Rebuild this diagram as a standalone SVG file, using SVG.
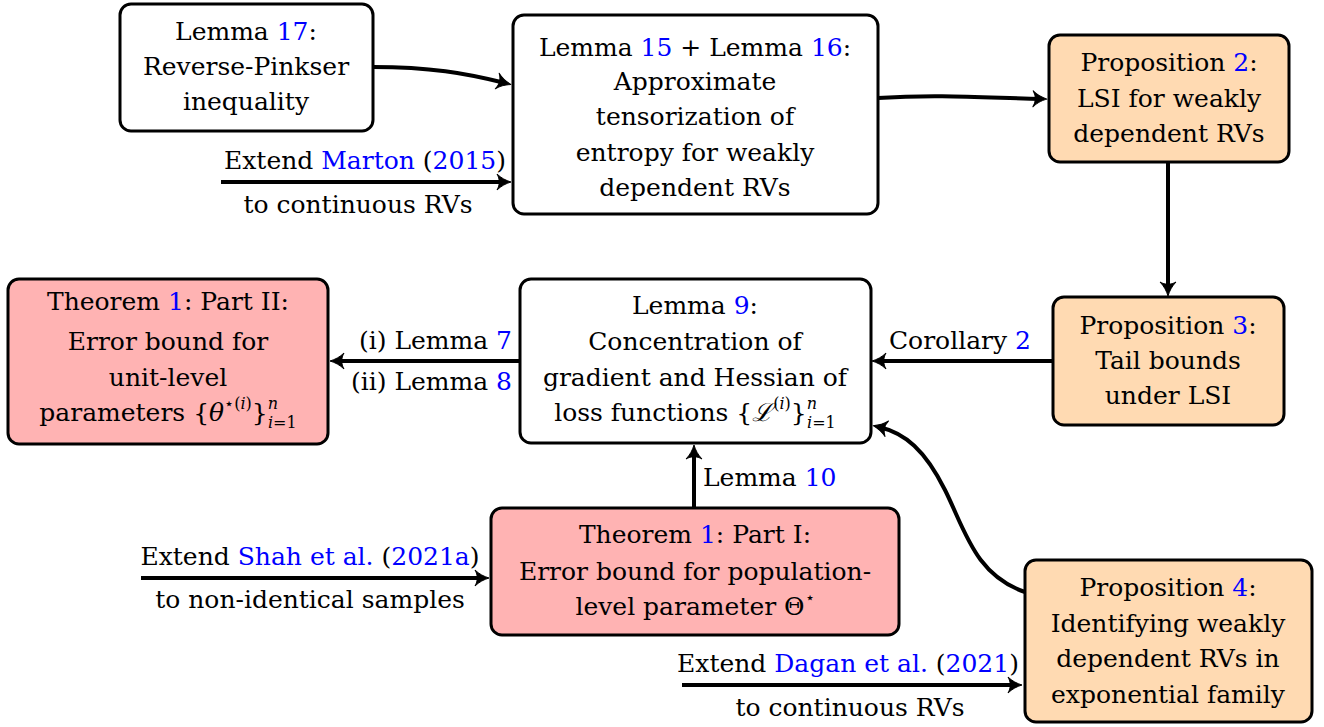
<svg xmlns="http://www.w3.org/2000/svg" width="1324" height="727" viewBox="0 0 1324 727">
<style>
text{font-family:'DejaVu Serif','Liberation Serif',serif;font-size:25px;fill:#000;}
.c{text-anchor:middle;}
.r{text-anchor:end;}
.b{fill:#0000ff;}
.i{font-style:italic;}
.s{font-size:16px;}
.box{stroke:#000;stroke-width:3;fill:#fff;}
.peach{fill:#ffdab2;}
.pink{fill:#ffb3b3;}
.e{fill:none;stroke:#000;stroke-width:4;marker-end:url(#ah);}
</style>
<defs>
<marker id="ah" markerUnits="userSpaceOnUse" orient="auto" refX="-5" refY="0" overflow="visible">
<path d="M1,0 C-4,-1.5 -9,-4 -13,-8 C-10,-3 -10,3 -13,8 C-9,4 -4,1.5 1,0 Z" fill="#000" stroke="#000" stroke-width="1" stroke-linejoin="round"/>
</marker>
</defs>
<rect width="1324" height="727" fill="#fff"/>
<g id="connectors">
<path class="e" d="M373,67 C430,67 465,73 505,83"/>
<path class="e" d="M221,182 L505,182"/>
<path class="e" d="M878,98 C940,94 990,98 1041,99"/>
<path class="e" d="M1168,162 L1168,290"/>
<path class="e" d="M1053,361 L878,361"/>
<path class="e" d="M520,361 L336,361"/>
<path class="e" d="M694,508 L694,451"/>
<path class="e" d="M1025,592 C975,575 965,530 945,490 C925,450 905,433 879,427"/>
<path class="e" d="M141,578 L483,578"/>
<path class="e" d="M682,685 L1016,685"/>
</g>
<g id="labels">
<text class="c" x="365" y="169">Extend <tspan class="b">Marton</tspan> (<tspan class="b">2015</tspan>)</text>
<text class="c" x="358" y="213">to continuous RVs</text>
<text class="c" x="960" y="349">Corollary <tspan class="b">2</tspan></text>
<text class="r" x="512" y="349">(i) Lemma <tspan class="b">7</tspan></text>
<text class="r" x="512" y="390">(ii) Lemma <tspan class="b">8</tspan></text>
<text x="703" y="486">Lemma <tspan class="b">10</tspan></text>
<text class="c" x="310" y="565">Extend <tspan class="b">Shah et al.</tspan> (<tspan class="b">2021a</tspan>)</text>
<text class="c" x="310" y="608">to non-identical samples</text>
<text class="c" x="848" y="672">Extend <tspan class="b">Dagan et al.</tspan> (<tspan class="b">2021</tspan>)</text>
<text class="c" x="850" y="716">to continuous RVs</text>
</g>
<g id="lemma17">
<rect class="box" x="120" y="4" width="253" height="127" rx="11"/>
<text class="c" x="246" y="40">Lemma <tspan class="b">17</tspan>:</text>
<text class="c" x="246" y="75">Reverse-Pinkser</text>
<text class="c" x="246" y="110">inequality</text>
</g>
<g id="lemma15_16">
<rect class="box" x="513" y="15" width="365" height="199" rx="11"/>
<text class="c" x="695" y="56">Lemma <tspan class="b">15</tspan> + Lemma <tspan class="b">16</tspan>:</text>
<text class="c" x="695" y="90">Approximate</text>
<text class="c" x="695" y="125">tensorization of</text>
<text class="c" x="695" y="161">entropy for weakly</text>
<text class="c" x="695" y="196">dependent RVs</text>
</g>
<g id="prop2">
<rect class="box peach" x="1049" y="35" width="240" height="127" rx="11"/>
<text class="c" x="1169" y="71">Proposition <tspan class="b">2</tspan>:</text>
<text class="c" x="1169" y="107">LSI for weakly</text>
<text class="c" x="1169" y="142">dependent RVs</text>
</g>
<g id="prop3">
<rect class="box peach" x="1053" y="297" width="231" height="128" rx="11"/>
<text class="c" x="1168" y="334">Proposition <tspan class="b">3</tspan>:</text>
<text class="c" x="1168" y="369">Tail bounds</text>
<text class="c" x="1168" y="404">under LSI</text>
</g>
<g id="lemma9">
<rect class="box" x="520" y="279" width="351" height="164" rx="11"/>
<text class="c" x="695" y="314">Lemma <tspan class="b">9</tspan>:</text>
<text class="c" x="695" y="350">Concentration of</text>
<text class="c" x="695" y="386">gradient and Hessian of</text>
<text class="c" x="695" y="421">loss functions {<tspan class="i">ℒ</tspan><tspan class="s" dy="-12">(<tspan class="i">i</tspan>)</tspan><tspan dy="12">}</tspan><tspan class="s i" dy="-12">n</tspan><tspan class="s" dx="-10" dy="19"><tspan class="i">i</tspan>=1</tspan></text>
</g>
<g id="thm1_part2">
<rect class="box pink" x="8" y="279" width="320" height="165" rx="11"/>
<text class="c" x="168" y="310">Theorem <tspan class="b">1</tspan>: Part II:</text>
<text class="c" x="168" y="350">Error bound for</text>
<text class="c" x="168" y="386">unit-level</text>
<text class="c" x="168" y="421">parameters {<tspan class="i">θ</tspan><tspan class="s" dy="-12">⋆(<tspan class="i">i</tspan>)</tspan><tspan dy="12">}</tspan><tspan class="s i" dy="-12">n</tspan><tspan class="s" dx="-10" dy="19"><tspan class="i">i</tspan>=1</tspan></text>
</g>
<g id="thm1_part1">
<rect class="box pink" x="491" y="508" width="408" height="127" rx="11"/>
<text class="c" x="695" y="543">Theorem <tspan class="b">1</tspan>: Part I:</text>
<text class="c" x="695" y="580">Error bound for population-</text>
<text class="c" x="695" y="615">level parameter Θ<tspan class="s" dy="-12">⋆</tspan></text>
</g>
<g id="prop4">
<rect class="box peach" x="1025" y="560" width="287" height="162" rx="11"/>
<text class="c" x="1168" y="596">Proposition <tspan class="b">4</tspan>:</text>
<text class="c" x="1168" y="632">Identifying weakly</text>
<text class="c" x="1168" y="667">dependent RVs in</text>
<text class="c" x="1168" y="703">exponential family</text>
</g>
</svg>
